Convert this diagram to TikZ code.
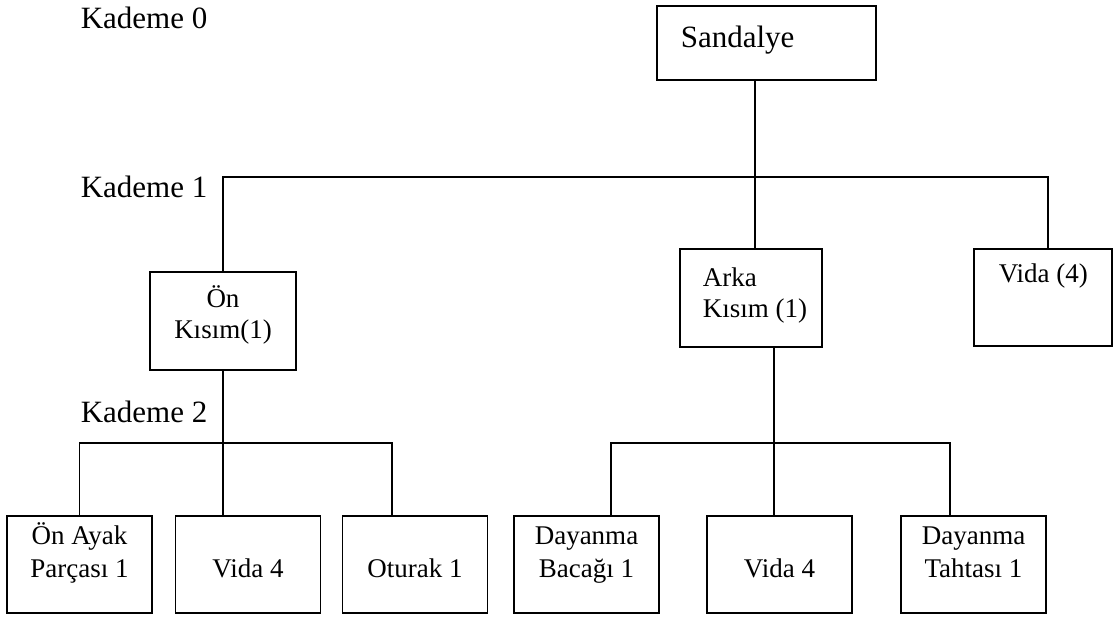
\documentclass[tikz,border=0pt]{standalone}
\usepackage{fontspec}
\setmainfont{Liberation Serif}
\begin{document}
\begin{tikzpicture}[x=0.5pt,y=-0.5pt,
  line width=0.8pt,
  box/.style={draw, rectangle, inner sep=0pt, outer sep=0pt,
              minimum width=72.5pt, minimum height=48.5pt},
  lvl/.style={anchor=base west, inner sep=0pt, font=\fontsize{15.5}{18}\selectfont},
  txt/.style={anchor=base, inner sep=0pt, font=\fontsize{13.5}{16}\selectfont},
  txtl/.style={txt, anchor=base west}]
\useasboundingbox (0,0) rectangle (1115,618);

% level labels
\node[lvl] (k0) at (80,28) {Kademe 0};
\node[lvl] (k1) at (80,197) {Kademe 1};
\node[lvl] (k2) at (80,422) {Kademe 2};

% level 0
\node[box, minimum width=109.5pt, minimum height=37pt] (sand) at (766.5,43) {};
\node[lvl] (sandt) at (680,47) {Sandalye};

% level 1
\node[box, minimum width=73pt, minimum height=49pt] (on) at (223,321) {};
\node[txt] (on1) at (223,307) {Ön};
\node[txt] (on2) at (223,338) {Kısım(1)};

\node[box, minimum width=71pt, minimum height=49pt] (arka) at (751,298) {};
\node[txtl] (arka1) at (702,286) {Arka};
\node[txtl] (arka2) at (702,317) {Kısım (1)};

\node[box, minimum width=69pt, minimum height=48.5pt] (vida) at (1043,297.5) {};
\node[txtl] (vidat) at (998,282) {Vida (4)};

% level 2
\node[box] (b1) at (79.5,564.5) {};
\node[txt] (b1a) at (79.5,544) {Ön Ayak};
\node[txt] (b1b) at (79.5,577) {Parçası 1};
\node[box] (b2) at (248,564.5) {};
\node[txt] (b2a) at (248,577) {Vida 4};
\node[box] (b3) at (415,564.5) {};
\node[txt] (b3a) at (415,577) {Oturak 1};
\node[box] (b4) at (586.5,564.5) {};
\node[txt] (b4a) at (586.5,544) {Dayanma};
\node[txt] (b4b) at (586.5,577) {Bacağı 1};
\node[box] (b5) at (779.5,564.5) {};
\node[txt] (b5a) at (779.5,577) {Vida 4};
\node[box] (b6) at (973.5,564.5) {};
\node[txt] (b6a) at (973.5,544) {Dayanma};
\node[txt] (b6b) at (973.5,577) {Tahtası 1};

% bus junctions
\coordinate (t1) at (755,177);
\coordinate (l1e) at (1048,177);
\coordinate (t2) at (223,443);
\coordinate (l2e) at (392,443);
\coordinate (t3) at (774,443);
\coordinate (r2w) at (611,443);
\coordinate (r2e) at (950,443);

% connectors level 0 -> 1
\draw (sand.south -| t1) -- (t1) -- (arka.north -| t1);
\draw (on.north) |- (l1e) -- (vida.north -| l1e);

% connectors level 1 -> 2
\draw (on.south) -- (t2) -- (b2.north -| t2);
\draw (b1.north) |- (l2e) -- (b3.north -| l2e);
\draw (arka.south -| t3) -- (t3) -- (b5.north -| t3);
\draw (b4.north -| r2w) |- (r2e) -- (b6.north -| r2e);
\end{tikzpicture}
\end{document}
